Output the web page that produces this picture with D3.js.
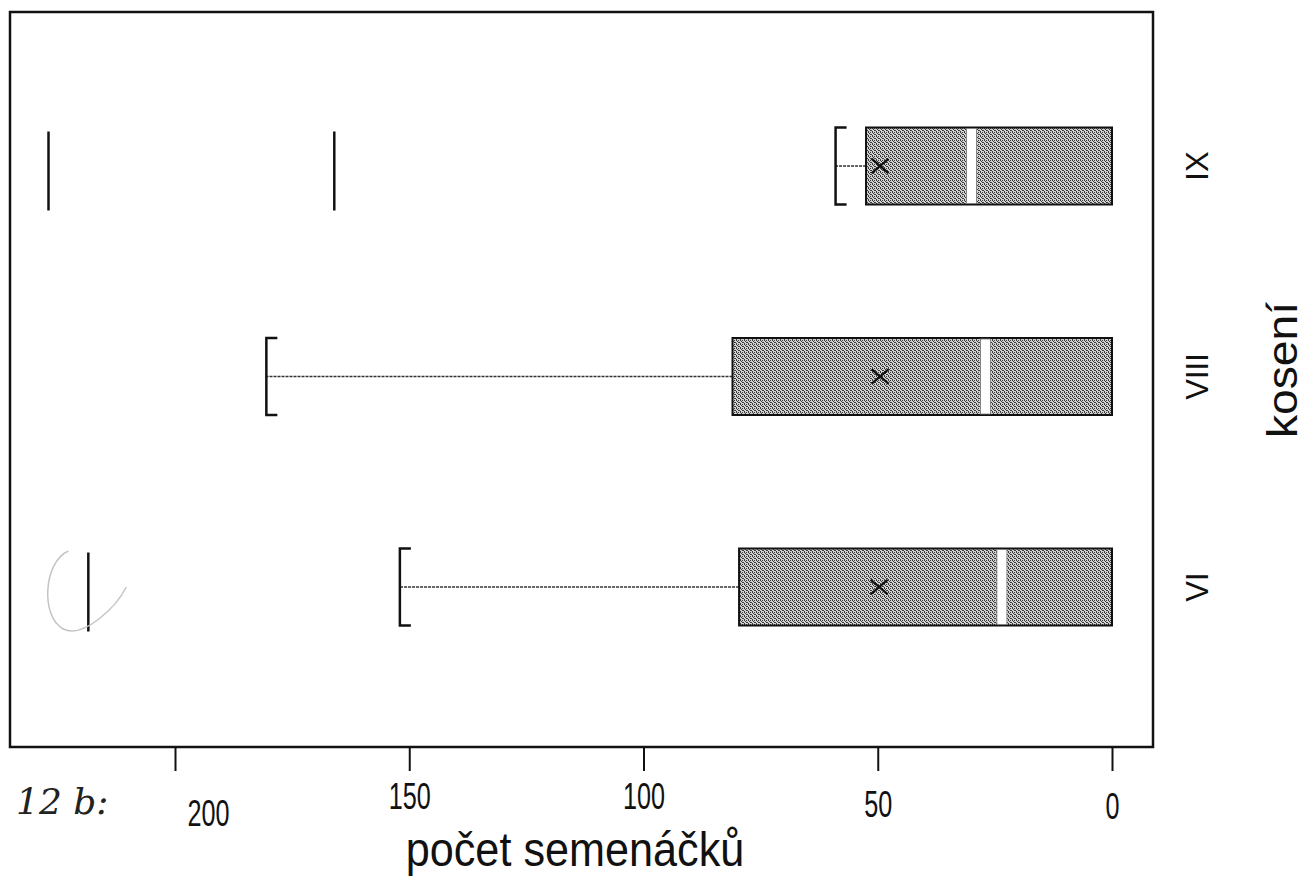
<!DOCTYPE html>
<html>
<head>
<meta charset="utf-8">
<script src="https://cdn.jsdelivr.net/npm/d3@7"></script>
<style>
  body { margin: 0; background: #fff; }
  svg { display: block; }
</style>
</head>
<body>
<div id="chart"></div>
<script>
// seedling counts per mowing term
const categories = ["IX", "VIII", "VI"];
const boxLow = [0, 0, 0];
const boxHigh = [52.5, 81, 79.6];
const medians = [30, 27, 23.5];
const means = [49.5, 49.5, 49.7];
const whiskerMax = [59, 180.5, 152];
const outliers = [[227, 166], [], [218.5]];
const xTicks = [200, 150, 100, 50, 0];

const width = 1311, height = 876;
const frame = { left: 10, top: 12, right: 1153, bottom: 747 };
const boxH = 77;
const font = "'Liberation Sans', Arial, sans-serif";

const svg = d3.select("#chart").append("svg")
    .attr("width", width)
    .attr("height", height);

// stipple fill like the printed raster
const defs = svg.append("defs");
const pat = defs.append("pattern")
    .attr("id", "stipple")
    .attr("patternUnits", "userSpaceOnUse")
    .attr("width", 4)
    .attr("height", 4);
pat.append("rect").attr("width", 4).attr("height", 4).attr("fill", "#d2d2d2");
[[0, 0], [2, 0], [1, 1], [3, 2], [0, 3], [2, 2]].forEach(p => {
    pat.append("rect")
        .attr("x", p[0]).attr("y", p[1])
        .attr("width", 1).attr("height", 1)
        .attr("fill", "#3a3a3a")
        .attr("shape-rendering", "crispEdges");
});

const x = d3.scaleLinear().domain([0, 200]).range([1112, 175]);
const y = d3.scalePoint().domain(categories).range([166, 587]);

// frame
svg.append("rect")
    .attr("x", frame.left)
    .attr("y", frame.top)
    .attr("width", frame.right - frame.left)
    .attr("height", frame.bottom - frame.top)
    .attr("fill", "none")
    .attr("stroke", "#111")
    .attr("stroke-width", 2.5);

const rows = categories.map((c, i) => ({
    cat: c, lo: boxLow[i], hi: boxHigh[i], med: medians[i],
    mean: means[i], wmax: whiskerMax[i], out: outliers[i]
}));

const g = svg.selectAll("g.row")
    .data(rows)
    .enter().append("g")
    .attr("class", "row");

// whisker
g.append("line")
    .attr("x1", d => x(d.hi))
    .attr("x2", d => x(d.wmax))
    .attr("y1", d => y(d.cat))
    .attr("y2", d => y(d.cat))
    .attr("stroke", "#333")
    .attr("stroke-width", 1.3)
    .attr("stroke-dasharray", "3,1");

// bracket cap
g.append("path")
    .attr("d", d => {
        const x0 = x(d.wmax), yc = y(d.cat);
        return `M${x0 + 11},${yc - boxH / 2} H${x0} V${yc + boxH / 2} H${x0 + 11}`;
    })
    .attr("fill", "none")
    .attr("stroke", "#111")
    .attr("stroke-width", 2.5);

// box
g.append("rect")
    .attr("x", d => x(d.hi))
    .attr("y", d => y(d.cat) - boxH / 2)
    .attr("width", d => x(d.lo) - x(d.hi))
    .attr("height", boxH)
    .attr("fill", "url(#stipple)")
    .attr("stroke", "#111")
    .attr("stroke-width", 2);

// median
g.append("rect")
    .attr("x", d => x(d.med) - 5)
    .attr("y", d => y(d.cat) - boxH / 2 + 1)
    .attr("width", 10)
    .attr("height", boxH - 2)
    .attr("fill", "#fff")
    .attr("stroke", "#777")
    .attr("stroke-width", 0.8);

// mean
g.append("path")
    .attr("d", d3.symbol(d3.symbolX, 190))
    .attr("transform", d => `translate(${x(d.mean)},${y(d.cat)}) scale(1,0.85)`)
    .attr("fill", "none")
    .attr("stroke", "#111")
    .attr("stroke-width", 2.4);

// outliers as vertical strokes
g.selectAll("line.out")
    .data(d => d.out.map(v => ({ v: v, cat: d.cat })))
    .enter().append("line")
    .attr("class", "out")
    .attr("x1", d => x(d.v))
    .attr("x2", d => x(d.v))
    .attr("y1", d => y(d.cat) - boxH / 2 + 4)
    .attr("y2", d => y(d.cat) + boxH / 2 + 6)
    .attr("stroke", "#111")
    .attr("stroke-width", 2.5);

// pencil loop drawn around the VI outlier
const ox = x(outliers[2][0]), oy = y("VI");
svg.append("path")
    .attr("d", `M${ox - 20},${oy - 36} C${ox - 45},${oy - 25} ${ox - 48},${oy + 30} ${ox - 25},${oy + 42} C${ox - 5},${oy + 52} ${ox + 28},${oy + 20} ${ox + 38},${oy}`)
    .attr("fill", "none")
    .attr("stroke", "#c4c4c4")
    .attr("stroke-width", 1.5);

// bottom axis
const axis = svg.append("g")
    .attr("transform", `translate(0,${frame.bottom})`)
    .call(d3.axisBottom(x).tickValues(xTicks).tickSize(24).tickPadding(0));
axis.select(".domain").remove();
axis.selectAll(".tick line").attr("stroke", "#111").attr("stroke-width", 2);
// scanned labels sit a little unevenly; keep their offsets
const labelShift = { 200: [33, 66], 150: [0, 49], 100: [0, 49], 50: [0, 57], 0: [0, 59] };
axis.selectAll(".tick text")
    .attr("y", 0)
    .attr("dy", null)
    .attr("fill", "#111")
    .attr("dominant-baseline", "central")
    .style("font-family", font)
    .style("font-size", "28px")
    .attr("transform", d => `translate(${labelShift[d][0]},${labelShift[d][1]}) scale(0.9,1.35)`);

// category labels (rotated)
svg.selectAll("text.cat")
    .data(categories)
    .enter().append("text")
    .attr("class", "cat")
    .attr("transform", d => `translate(1208,${y(d)}) rotate(-90)`)
    .attr("text-anchor", "middle")
    .style("font-family", font)
    .style("font-size", "31px")
    .attr("fill", "#111")
    .text(d => d);

svg.append("text")
    .attr("transform", "translate(1297,370) rotate(-90) scale(1.1,1)")
    .attr("text-anchor", "middle")
    .style("font-family", font)
    .style("font-size", "42px")
    .attr("fill", "#111")
    .text("kosení");

svg.append("text")
    .attr("transform", "translate(575,866) scale(1.08,1.2)")
    .attr("text-anchor", "middle")
    .style("font-family", font)
    .style("font-size", "40px")
    .attr("fill", "#111")
    .text("počet semenáčků");

// handwritten note
svg.append("text")
    .attr("x", 16)
    .attr("y", 814)
    .style("font-family", "'DejaVu Serif', serif")
    .style("font-style", "italic")
    .style("font-size", "36px")
    .attr("fill", "#222")
    .text("12 b:");
</script>
</body>
</html>
